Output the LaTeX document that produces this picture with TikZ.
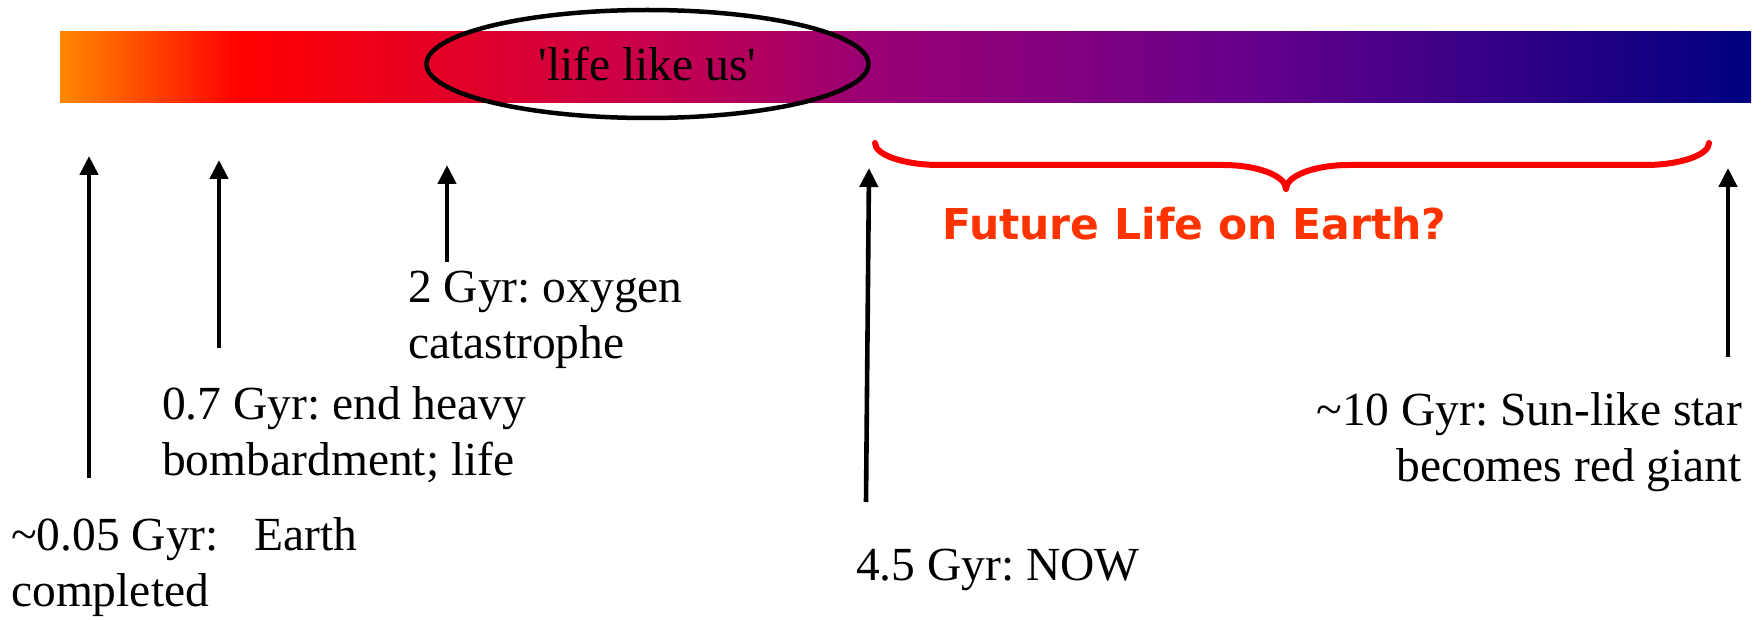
\documentclass[tikz,border=0pt]{standalone}
\usepackage{fontspec}
\setmainfont{Liberation Serif}
\newfontfamily\futfont{DejaVu Sans}
\usetikzlibrary{arrows.meta,shapes.geometric}
\frenchspacing
\definecolor{barorange}{RGB}{255,136,0}
\definecolor{barred}{RGB}{255,0,0}
\definecolor{barcrimson}{RGB}{200,0,75}
\definecolor{barmagenta}{RGB}{155,0,115}
\definecolor{barpurple}{RGB}{128,0,128}
\definecolor{barviolet}{RGB}{100,0,140}
\definecolor{barnavy}{RGB}{0,0,128}
\definecolor{braceRed}{RGB}{255,0,0}
\definecolor{futRed}{RGB}{255,51,0}
\pgfdeclarehorizontalshading{timeline}{100bp}{color(0bp)=(barorange); color(25bp)=(barorange); color(30.32bp)=(barred); color(42.36bp)=(barcrimson); color(48.65bp)=(barmagenta); color(55.16bp)=(barpurple); color(60.48bp)=(barviolet); color(75bp)=(barnavy); color(100bp)=(barnavy)}
\begin{document}
\begin{tikzpicture}[x=1pt,y=-1pt,
  lbl/.style={inner sep=0pt, font=\frenchspacing\fontsize{47.5}{56}\selectfont},
  arr/.style={line width=4.6pt, -{Triangle[length=19pt,width=18pt]}},
  bracestyle/.style={draw=braceRed, line width=6pt, line join=round, line cap=round}]
\useasboundingbox (0,0) rectangle (1763,620);
% gradient timeline bar
\node[shade, shading=timeline, minimum width=1691pt, minimum height=71pt, inner sep=0pt] (bar) at (905.5,67.5) {};
% ellipse
\node[ellipse, draw, line width=4.5pt, minimum width=442pt, minimum height=108pt, inner sep=0pt,
      font=\fontsize{47.5}{56}\selectfont] (life) at (647.5,64) {\raisebox{-2pt}{\textquotesingle life like us\textquotesingle}};
% arrows
\coordinate (a1s) at (89,478);  \coordinate (a1e) at (89,156);
\coordinate (a2s) at (219,348); \coordinate (a2e) at (219,160);
\coordinate (a3s) at (447,262); \coordinate (a3e) at (447,165);
\coordinate (a4s) at (866,502); \coordinate (a4e) at (869,168);
\coordinate (a5s) at (1728,357); \coordinate (a5e) at (1728,168);
\draw[arr] (a1s) -- (a1e);
\draw[arr] (a2s) -- (a2e);
\draw[arr] (a3s) -- (a3e);
\draw[arr] (a4s) -- (a4e);
\draw[arr] (a5s) -- (a5e);
% brace
\coordinate (bl) at (875,143);
\coordinate (bm) at (1286,189);
\coordinate (br) at (1709,143);
\draw[bracestyle] (bl) .. controls (875,155) and (904,165) .. (940,165) -- (1223,165)
  .. controls (1258,165) and (1286,176) .. (bm)
  .. controls (1286,176) and (1314,165) .. (1349,165) -- (1645,165)
  .. controls (1680,165) and (1709,155) .. (br);
\node[anchor=base west, inner sep=0pt, text=futRed,
      font=\futfont\bfseries\fontsize{42.5}{50}\selectfont] (fut) at (942,240) {Future Life on Earth?};
% labels
\node[lbl, anchor=base west] (t1) at (11,550) {\begin{tabular}[t]{@{}l@{}}\textasciitilde 0.05 Gyr:\ \ \ Earth\\ completed\end{tabular}};
\node[lbl, anchor=base west] (t2) at (162,419) {\begin{tabular}[t]{@{}l@{}}0.7 Gyr: end heavy\\ bombardment; life\end{tabular}};
\node[lbl, anchor=base west] (t3) at (408,302) {\begin{tabular}[t]{@{}l@{}}2 Gyr: oxygen\\ catastrophe\end{tabular}};
\node[lbl, anchor=base west] (t4) at (856,580) {4.5 Gyr: NOW};
\node[lbl, anchor=base east] (t5) at (1742,425) {\begin{tabular}[t]{@{}r@{}}\textasciitilde 10 Gyr: Sun-like star\\ becomes red giant\end{tabular}};
\end{tikzpicture}
\end{document}
